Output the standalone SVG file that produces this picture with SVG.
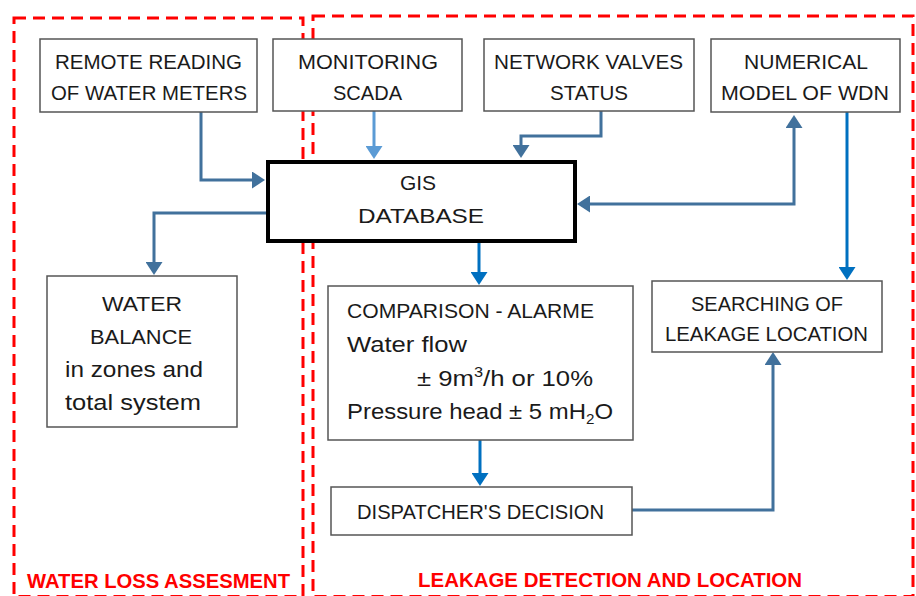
<svg xmlns="http://www.w3.org/2000/svg" width="916" height="596" viewBox="0 0 916 596">
<style>
text{font-family:"Liberation Sans",Arial,sans-serif;fill:#1a1a1a;font-size:21px}
.c{text-anchor:middle}
.box{fill:#fff;stroke:#555;stroke-width:1.5}
.gis{fill:#fff;stroke:#000;stroke-width:4}
.frame{fill:none;stroke:#ff0000;stroke-width:3;stroke-dasharray:12 7}
.lbl{fill:#ff0000;font-weight:bold;font-size:21px}
.cn{fill:none;stroke-width:3}
.d{stroke:#41719c}
.l{stroke:#5b9bd5}
.b{stroke:#0070c0}
.lc{font-size:22px}
</style>
<defs>
<marker id="ad" markerUnits="userSpaceOnUse" viewBox="0 0 13 17" refX="7" refY="8.5" markerWidth="13" markerHeight="17" orient="auto-start-reverse"><path d="M0,0 L13,8.5 L0,17 z" fill="#41719c"/></marker>
<marker id="al" markerUnits="userSpaceOnUse" viewBox="0 0 13 17" refX="7" refY="8.5" markerWidth="13" markerHeight="17" orient="auto"><path d="M0,0 L13,8.5 L0,17 z" fill="#5b9bd5"/></marker>
<marker id="ab" markerUnits="userSpaceOnUse" viewBox="0 0 13 17" refX="7" refY="8.5" markerWidth="13" markerHeight="17" orient="auto"><path d="M0,0 L13,8.5 L0,17 z" fill="#0070c0"/></marker>
</defs>
<g id="frames">
<rect class="frame" x="14" y="18" width="289" height="578.5"/>
<rect class="frame" x="313" y="16" width="600" height="580.5"/>
<text class="lbl" x="27" y="588" textLength="263" lengthAdjust="spacingAndGlyphs">WATER LOSS ASSESMENT</text>
<text class="lbl" x="418" y="587" textLength="384" lengthAdjust="spacingAndGlyphs">LEAKAGE DETECTION AND LOCATION</text>
</g>
<g id="connectors">
<path class="cn d" d="M201,112 V180 H259" marker-end="url(#ad)"/>
<path class="cn l" d="M374,111 V153" marker-end="url(#al)"/>
<path class="cn d" d="M601,111 V136 H521 V152" marker-end="url(#ad)"/>
<path class="cn d" d="M583,204 H794 V121" marker-start="url(#ad)" marker-end="url(#ad)"/>
<path class="cn b" d="M847,112 V274" marker-end="url(#ab)"/>
<path class="cn d" d="M266,213 H154 V269" marker-end="url(#ad)"/>
<path class="cn b" d="M479,243 V279" marker-end="url(#ab)"/>
<path class="cn b" d="M480,440 V480" marker-end="url(#ab)"/>
<path class="cn d" d="M632,510 H773 V358" marker-end="url(#ad)"/>
</g>
<g id="remote">
<rect class="box" x="40" y="39" width="217" height="73"/>
<text class="c" x="148.5" y="69" textLength="187" lengthAdjust="spacingAndGlyphs">REMOTE READING</text>
<text class="c" x="149" y="100" textLength="196" lengthAdjust="spacingAndGlyphs">OF WATER METERS</text>
</g>
<g id="scada">
<rect class="box" x="273" y="39" width="189" height="72"/>
<text class="c" x="368" y="69" textLength="140" lengthAdjust="spacingAndGlyphs">MONITORING</text>
<text class="c" x="367.5" y="100" textLength="69" lengthAdjust="spacingAndGlyphs">SCADA</text>
</g>
<g id="valves">
<rect class="box" x="484" y="39" width="210" height="72"/>
<text class="c" x="588.5" y="69" textLength="189" lengthAdjust="spacingAndGlyphs">NETWORK VALVES</text>
<text class="c" x="589" y="100" textLength="78" lengthAdjust="spacingAndGlyphs">STATUS</text>
</g>
<g id="model">
<rect class="box" x="711" y="39" width="189" height="73"/>
<text class="c" x="806" y="69" textLength="124" lengthAdjust="spacingAndGlyphs">NUMERICAL</text>
<text class="c" x="805" y="100" textLength="168" lengthAdjust="spacingAndGlyphs">MODEL OF WDN</text>
</g>
<g id="gis">
<rect class="gis" x="268" y="162" width="307" height="79"/>
<text class="c" x="418" y="190">GIS</text>
<text class="c" x="421" y="223" textLength="126" lengthAdjust="spacingAndGlyphs">DATABASE</text>
</g>
<g id="balance">
<rect class="box" x="47" y="276" width="190" height="151"/>
<text class="c" x="142" y="311" textLength="80" lengthAdjust="spacingAndGlyphs">WATER</text>
<text class="c" x="141" y="344" textLength="102" lengthAdjust="spacingAndGlyphs">BALANCE</text>
<text class="lc" x="65" y="377" textLength="138" lengthAdjust="spacingAndGlyphs">in zones and</text>
<text class="lc" x="65" y="410" textLength="136" lengthAdjust="spacingAndGlyphs">total system</text>
</g>
<g id="comparison">
<rect class="box" x="328" y="286" width="305" height="154"/>
<text x="347" y="318" textLength="247" lengthAdjust="spacingAndGlyphs">COMPARISON - ALARME</text>
<text class="lc" x="347" y="352" textLength="120" lengthAdjust="spacingAndGlyphs">Water flow</text>
<text class="lc" x="417" y="386" textLength="176" lengthAdjust="spacingAndGlyphs">± 9m<tspan font-size="14" dy="-9">3</tspan><tspan dy="9">/h or 10%</tspan></text>
<text class="lc" x="347" y="419" textLength="266" lengthAdjust="spacingAndGlyphs">Pressure head ± 5 mH<tspan font-size="14" dy="5">2</tspan><tspan dy="-5">O</tspan></text>
</g>
<g id="search">
<rect class="box" x="652" y="281" width="230" height="71"/>
<text class="c" x="767" y="311" textLength="152" lengthAdjust="spacingAndGlyphs">SEARCHING OF</text>
<text class="c" x="766.5" y="341" textLength="203" lengthAdjust="spacingAndGlyphs">LEAKAGE LOCATION</text>
</g>
<g id="dispatcher">
<rect class="box" x="331" y="487" width="301" height="48"/>
<text class="c" x="480.5" y="519" textLength="247" lengthAdjust="spacingAndGlyphs">DISPATCHER'S DECISION</text>
</g>
</svg>
